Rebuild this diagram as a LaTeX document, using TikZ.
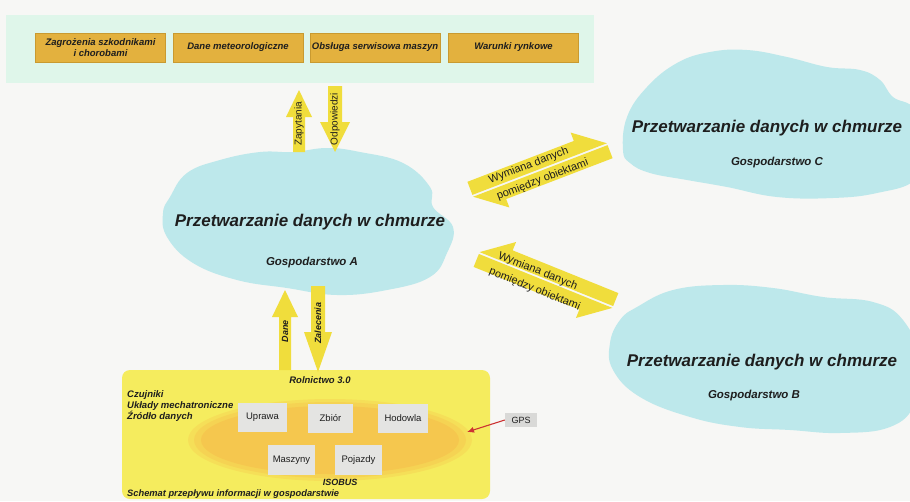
\documentclass[tikz,border=0pt]{standalone}
\usepackage{fontspec}
\setmainfont{Liberation Sans}
\usetikzlibrary{arrows.meta}
\definecolor{bg}{HTML}{F7F7F5}
\definecolor{mint}{HTML}{DFF6EA}
\definecolor{gold}{HTML}{E3B13E}
\definecolor{goldline}{HTML}{C99A30}
\definecolor{cloudc}{HTML}{BDE8EB}
\definecolor{arrowy}{HTML}{F0DD3C}
\definecolor{panely}{HTML}{F5EC5E}
\definecolor{ellip}{HTML}{F5C24C}
\definecolor{boxg}{HTML}{E4E4E2}
\definecolor{gpsg}{HTML}{D9D9D7}
\definecolor{gpsred}{HTML}{CC3333}
\definecolor{ink}{HTML}{1E1E1E}
\begin{document}
\begin{tikzpicture}[x=1pt,y=-1pt,
  topbox/.style={draw=goldline, fill=gold, minimum width=130pt, minimum height=29pt, inner sep=1pt,
    font=\fontsize{9.5}{10.5}\selectfont\bfseries\itshape, align=center, text=ink},
  farmbox/.style={fill=boxg, minimum height=29pt, inner sep=1pt, font=\fontsize{9.5}{11}\selectfont, text=ink},
  bitext/.style={font=\fontsize{9.5}{11}\selectfont\bfseries\itshape, text=ink, inner sep=0pt},
  cloudtitle/.style={font=\fontsize{17}{19}\selectfont\bfseries\itshape, text=ink, inner sep=0pt},
  cloudsub/.style={font=\fontsize{11.5}{13}\selectfont\bfseries\itshape, text=ink, inner sep=0pt},
  vlabel/.style={rotate=90, font=\fontsize{10}{11}\selectfont, text=ink, inner sep=0pt},
  vlabelbi/.style={rotate=90, font=\fontsize{9}{10}\selectfont\bfseries\itshape, text=ink, inner sep=0pt},
  xlabel/.style={font=\fontsize{11}{12}\selectfont, text=ink, inner sep=0pt}
]
\useasboundingbox (0,0) rectangle (910,501);
\fill[bg] (0,0) rectangle (910,501);
\clip (0,0) rectangle (910,501);

% top panel
\node[fill=mint, minimum width=588pt, minimum height=68pt, inner sep=0pt] (toppanel) at (300,49) {};
\node[topbox] (t1) at (100.5,47.5) {Zagrożenia szkodnikami\\i chorobami};
\node[topbox] (t2) at (238,47.5) {Dane meteorologiczne};
\node[topbox] (t3) at (375,47.5) {Obsługa serwisowa maszyn};
\node[topbox] (t4) at (513.5,47.5) {Warunki rynkowe};

% clouds
\fill[cloudc] plot[smooth cycle, tension=0.7] coordinates {(170,197) (187,173) (220,160) (260,152) (293,152) (327,148) (360,152) (403,163) (430,187) (433,207) (453,227) (447,253) (430,277) (387,290) (337,295) (287,288) (237,280) (193,263) (167,237) (163,213)};
\node[cloudtitle] (cA) at (310,222) {Przetwarzanie danych w chmurze};
\node[cloudsub] (sA) at (312,263) {Gospodarstwo A};

\fill[cloudc] plot[smooth cycle, tension=0.7] coordinates {(623,150) (627,117) (647,87) (677,63) (710,52) (747,50) (787,57) (827,67) (860,70) (880,80) (893,97) (915,110) (925,150) (915,180) (877,193) (833,198) (777,197) (727,187) (687,180) (650,173) (630,163)};
\node[cloudtitle] (cC) at (767,128) {Przetwarzanie danych w chmurze};
\node[cloudsub] (sC) at (777,163) {Gospodarstwo C};

\fill[cloudc] plot[smooth cycle, tension=0.7] coordinates {(620,320) (637,307) (673,290) (723,285) (773,288) (823,297) (873,302) (903,320) (920,360) (915,403) (890,427) (840,433) (790,430) (740,427) (690,417) (640,397) (613,370) (610,343)};
\node[cloudtitle] (cB) at (762,362) {Przetwarzanie danych w chmurze};
\node[cloudsub] (sB) at (754,396) {Gospodarstwo B};

% bottom panel
\node[fill=panely, rounded corners=8pt, minimum width=368pt, minimum height=129pt, inner sep=0pt] (farm) at (306,434.5) {};
\fill[ellip, opacity=0.3] (330,440) ellipse (142 and 41);
\fill[ellip, opacity=0.4] (330,440) ellipse (136 and 38);
\fill[ellip, opacity=0.7] (330,440) ellipse (129 and 34);
\node[farmbox, minimum width=49pt] (upr) at (262.5,417.5) {Uprawa};
\node[farmbox, minimum width=45pt] (zb) at (330.5,418) {Zbiór};
\node[farmbox, minimum width=50pt] (hod) at (403,418) {Hodowla};
\node[farmbox, minimum width=47pt, minimum height=30pt] (masz) at (291.5,460) {Maszyny};
\node[farmbox, minimum width=47pt, minimum height=30pt] (poj) at (358.5,460) {Pojazdy};
\node[bitext] (rol) at (320,380) {Rolnictwo 3.0};
\node[bitext, anchor=north west, align=left] (czu) at (127,390) {Czujniki\\Układy mechatroniczne\\Źródło danych};
\node[bitext, font=\fontsize{9}{10}\selectfont\bfseries\itshape] (iso) at (340,482.5) {ISOBUS};
\node[bitext, anchor=west, font=\fontsize{9.3}{10}\selectfont\bfseries\itshape] (sch) at (127,494) {Schemat przepływu informacji w gospodarstwie};

% GPS
\node[fill=gpsg, minimum width=32pt, minimum height=14pt, inner sep=1pt, font=\fontsize{9}{10}\selectfont, text=ink] (gps) at (521,420) {GPS};
\coordinate (gpsend) at (467,432);
\draw[gpsred, line width=1.1pt, -{Latex[length=7pt,width=6pt]}] (gps.west) -- (gpsend);

% vertical arrows
\fill[arrowy] (293,152) -- (293,117) -- (286,117) -- (299,90) -- (312,117) -- (305,117) -- (305,152) -- cycle;
\fill[arrowy] (328,86) -- (342,86) -- (342,122) -- (350,122) -- (335,152) -- (320,122) -- (328,122) -- cycle;
\node[vlabel] (lz) at (299,124) {Zapytania};
\node[vlabel] (lo) at (335,119) {Odpowiedzi};

\fill[arrowy] (279,370) -- (279,317) -- (272,317) -- (285,290) -- (298,317) -- (291,317) -- (291,370) -- cycle;
\fill[arrowy] (311,286) -- (325,286) -- (325,332) -- (332,332) -- (318,372) -- (304,332) -- (311,332) -- cycle;
\node[vlabelbi] (ld) at (285,331) {Dane};
\node[vlabelbi] (lzal) at (318,323) {Zalecenia};

% exchange arrows A <-> C
\begin{scope}[shift={(540,170)}, rotate=21]
  \fill[arrowy] (-72,-1) -- (-72,-15) -- (42,-15) -- (42,-24) -- (72,-1) -- cycle;
  \fill[arrowy] (72,1) -- (72,15) -- (-42,15) -- (-42,24) -- (-72,1) -- cycle;
  \node[xlabel, rotate=21] (x1a) at (-9,-8) {Wymiana danych};
  \node[xlabel, rotate=21] (x1b) at (-1,10) {pomiędzy obiektami};
\end{scope}

% exchange arrows A <-> B
\begin{scope}[shift={(546,280)}, rotate=-22]
  \fill[arrowy] (72,-1) -- (72,-15) -- (-42,-15) -- (-42,-24) -- (-72,-1) -- cycle;
  \fill[arrowy] (-72,1) -- (-72,15) -- (42,15) -- (42,24) -- (72,1) -- cycle;
  \node[xlabel, rotate=-22] (x2a) at (-11,-5) {Wymiana danych};
  \node[xlabel, rotate=-22] (x2b) at (-7,13) {pomiędzy obiektami};
\end{scope}
\end{tikzpicture}
\end{document}
